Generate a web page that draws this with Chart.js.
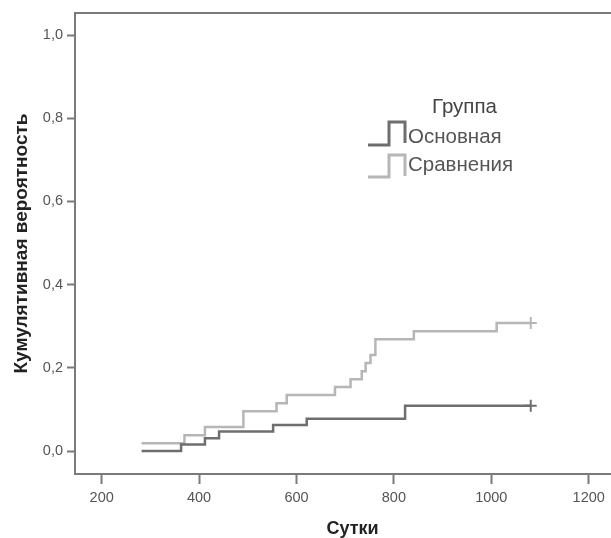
<!DOCTYPE html>
<html>
<head>
<meta charset="utf-8">
<script src="https://cdn.jsdelivr.net/npm/chart.js@4/dist/chart.umd.min.js"></script>
<style>
  html, body { margin: 0; padding: 0; overflow: hidden; background: #fff; }
  #wrap { position: relative; width: 640px; height: 538px; }
  #legend { position: absolute; left: 0; top: 0; font-family: "Liberation Sans", Arial, sans-serif; color: #555; }
  #legend .t { position: absolute; font-size: 20.5px; line-height: 20px; white-space: nowrap; }
  #legend svg { position: absolute; left: 0; top: 0; }
</style>
</head>
<body>
<div id="wrap">
  <canvas id="km" width="640" height="538"></canvas>
  <div id="legend">
    <div class="t" style="left:432px; top:96px; color:#444">Группа</div>
    <div class="t" style="left:408px; top:126px">Основная</div>
    <div class="t" style="left:408px; top:154px">Сравнения</div>
    <svg width="420" height="190">
      <polyline points="368,145 389,145 389,122 405,122 405,143" fill="none" stroke="#6e6e6e" stroke-width="3"/>
      <polyline points="368,177 389,177 389,155 405,155 405,176" fill="none" stroke="#b6b6b6" stroke-width="3"/>
    </svg>
  </div>
</div>
<script>
// Cumulative probability by day, two groups
const groups = ['Основная', 'Сравнения'];
const osnDays = [282, 363, 412, 441, 552, 621, 823, 1081];
const osnProb = [0, 0.016, 0.031, 0.047, 0.063, 0.078, 0.109, 0.109];
const srvDays = [282, 370, 412, 491, 559, 580, 679, 711, 734, 742, 752, 762, 841, 1011, 1081];
const srvProb = [0.019, 0.038, 0.058, 0.096, 0.115, 0.135, 0.154, 0.173, 0.192, 0.212, 0.231, 0.269, 0.288, 0.308, 0.308];
const xTicks = [200, 400, 600, 800, 1000, 1200];
const yTicks = [0, 0.2, 0.4, 0.6, 0.8, 1.0];

const axisGray = '#7a7a7a';
const font = '"Liberation Sans", Arial, sans-serif';

function toPoints(days, prob) {
  return days.map((d, i) => ({ x: d, y: prob[i] }));
}

// censored mark only on the last point
function censorRadius(ctx) {
  return ctx.dataIndex === ctx.dataset.data.length - 1 ? 6 : 0;
}

// top edge of the plot frame
const frameTop = {
  id: 'frameTop',
  afterDraw(chart) {
    const { ctx, chartArea } = chart;
    ctx.save();
    ctx.strokeStyle = axisGray;
    ctx.lineWidth = 2;
    ctx.beginPath();
    ctx.moveTo(chartArea.left - 1, chartArea.top);
    ctx.lineTo(chartArea.right, chartArea.top);
    ctx.stroke();
    ctx.restore();
  }
};

new Chart(document.getElementById('km'), {
  type: 'line',
  data: {
    datasets: [
      {
        label: groups[0],
        data: toPoints(osnDays, osnProb),
        borderColor: '#6e6e6e',
        borderWidth: 2.5,
        stepped: true,
        pointStyle: 'cross',
        pointRadius: censorRadius,
        pointBorderColor: '#6e6e6e',
        pointBorderWidth: 2,
        fill: false
      },
      {
        label: groups[1],
        data: toPoints(srvDays, srvProb),
        borderColor: '#b6b6b6',
        borderWidth: 2.5,
        stepped: true,
        pointStyle: 'cross',
        pointRadius: censorRadius,
        pointBorderColor: '#b6b6b6',
        pointBorderWidth: 2,
        fill: false
      }
    ]
  },
  options: {
    responsive: false,
    animation: false,
    devicePixelRatio: 1,
    layout: { padding: { top: 13, right: 10, left: 0, bottom: 0 } },
    plugins: { legend: { display: false }, tooltip: { enabled: false } },
    scales: {
      x: {
        type: 'linear',
        min: 145.2,
        max: 1284.8,
        afterBuildTicks: s => { s.ticks = xTicks.map(v => ({ value: v })); },
        afterFit: s => { s.height = 64; },
        border: { display: true, color: axisGray, width: 2 },
        grid: { drawOnChartArea: false, drawTicks: true, tickLength: 10, tickWidth: 2, tickColor: axisGray },
        ticks: {
          padding: 5, color: '#555', font: { family: font, size: 14.5 },
          callback: v => String(v)
        },
        title: {
          display: true, text: 'Сутки', color: '#222',
          padding: { top: 0, bottom: 0 },
          font: { family: font, size: 18, weight: 'bold', lineHeight: 1 }
        }
      },
      y: {
        type: 'linear',
        min: -0.055,
        max: 1.053,
        afterBuildTicks: s => { s.ticks = yTicks.map(v => ({ value: v })); },
        afterFit: s => { s.width = 75; },
        border: { display: true, color: axisGray, width: 2 },
        grid: { drawOnChartArea: false, drawTicks: true, tickLength: 8, tickWidth: 2, tickColor: axisGray },
        ticks: {
          padding: 4, color: '#555', font: { family: font, size: 14.5 },
          callback: v => v.toFixed(1).replace('.', ',')
        },
        title: {
          display: true, text: 'Кумулятивная вероятность', color: '#222',
          padding: { top: 12, bottom: 0 },
          font: { family: font, size: 19, weight: 'bold', lineHeight: 1 }
        }
      }
    }
  },
  plugins: [frameTop]
});
</script>
</body>
</html>
